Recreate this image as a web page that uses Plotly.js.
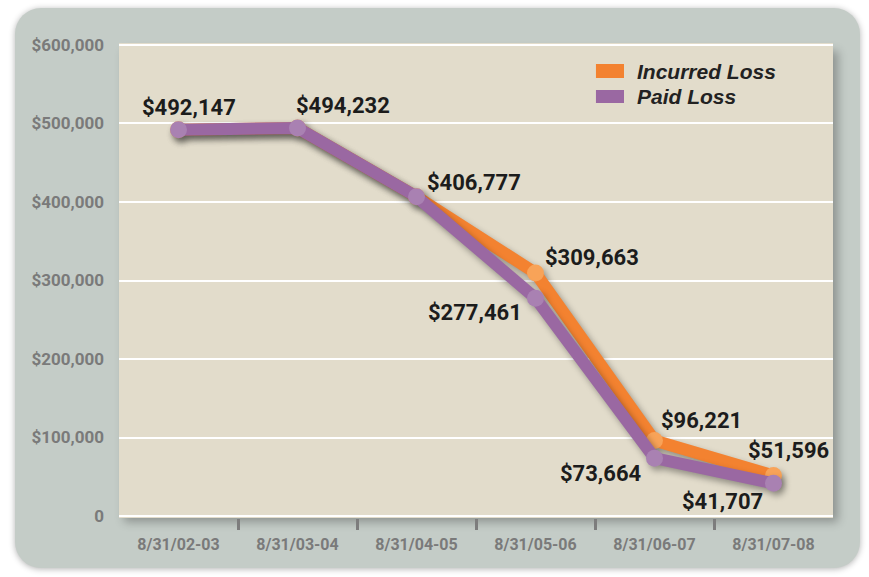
<!DOCTYPE html>
<html>
<head>
<meta charset="utf-8">
<script src="https://cdn.plot.ly/plotly-3.0.1.min.js"></script>
<style>
  html, body { margin: 0; padding: 0; background: #ffffff; }
  #wrap { position: relative; width: 869px; height: 577px; overflow: hidden; }
  #frame { position: absolute; left: 15px; top: 8px; width: 845px; height: 560px;
           border-radius: 26px; background: #c4ccc7;
           box-shadow: 0 1px 6px rgba(0,0,0,0.30); }
  #panelshadow { position: absolute; left: 119px; top: 45px; width: 714px; height: 471px;
           background: #e2dccb; box-shadow: 5px 6px 9px rgba(0,0,0,0.28); }
  #chart { position: absolute; left: 0; top: 0; width: 869px; height: 577px; }
  #chart .scatterlayer .trace { filter: drop-shadow(3px 4px 3px rgba(0,0,0,0.35)); }
</style>
</head>
<body>
<div id="wrap">
  <div id="frame"></div>
  <div id="panelshadow"></div>
  <div id="chart"></div>
</div>
<script>
const categories = ["8/31/02-03", "8/31/03-04", "8/31/04-05", "8/31/05-06", "8/31/06-07", "8/31/07-08"];
const incurredLoss = [492147, 494232, 406777, 309663, 96221, 51596];
const paidLoss = [492147, 494232, 406777, 277461, 73664, 41707];
const seriesNames = ["Incurred Loss", "Paid Loss"];
const yTickVals = [0, 100000, 200000, 300000, 400000, 500000, 600000];
const yTickText = ["0", "$100,000", "$200,000", "$300,000", "$400,000", "$500,000", "$600,000"];

const condensed = 'Roboto, "Liberation Sans", sans-serif';
const ORANGE = '#f38230', ORANGE_M = '#f8a358';
const PURPLE = '#9a68a2', PURPLE_M = '#a981b2';

function fmt(v) { return '$' + v.toLocaleString('en-US'); }

const traces = [
  { x: categories, y: incurredLoss, name: seriesNames[0], type: 'scatter', mode: 'lines+markers',
    line: { color: ORANGE, width: 12 }, marker: { color: ORANGE_M, size: 17 }, showlegend: false, hoverinfo: 'skip' },
  { x: categories, y: paidLoss, name: seriesNames[1], type: 'scatter', mode: 'lines+markers',
    line: { color: PURPLE, width: 12 }, marker: { color: PURPLE_M, size: 17 }, showlegend: false, hoverinfo: 'skip' }
];

// label offsets (style only)
const incOffsets = [null, null, null, [56, 15], [47, 20], [15, 25]];
const paidOffsets = [[10, 22], [45, 23], [57, 14], [-61, -14], [-54, -15], [-51, -18]];
const annotations = [];
const labelFont = { family: condensed, size: 22, color: '#1c1c1c', weight: 700 };
paidLoss.forEach((v, i) => {
  const o = paidOffsets[i];
  annotations.push({ x: categories[i], y: v, text: '<b>' + fmt(v) + '</b>', showarrow: false,
    xshift: o[0], yshift: o[1], font: labelFont });
});
incurredLoss.forEach((v, i) => {
  const o = incOffsets[i];
  if (!o) return;
  annotations.push({ x: categories[i], y: v, text: '<b>' + fmt(v) + '</b>', showarrow: false,
    xshift: o[0], yshift: o[1], font: labelFont });
});
// legend (drawn manually with rectangles + text)
const legendColors = [ORANGE, PURPLE];
const legendY = [[0.9263, 0.9558], [0.8737, 0.901]];
const shapes = [];
seriesNames.forEach((n, i) => {
  shapes.push({ type: 'rect', xref: 'paper', yref: 'paper', x0: 0.668, x1: 0.7073,
    y0: legendY[i][0], y1: legendY[i][1], fillcolor: legendColors[i], line: { width: 0 } });
  annotations.push({ xref: 'paper', yref: 'paper', x: 0.7225, y: (legendY[i][0] + legendY[i][1]) / 2,
    xanchor: 'left', yanchor: 'middle', showarrow: false,
    text: '<b><i>' + n + '</i></b>',
    font: { family: '"Liberation Sans", Arial, sans-serif', size: 21, color: '#222222' } });
});

const layout = {
  width: 869, height: 577,
  margin: { l: 119, r: 36, t: 43, b: 59 },
  paper_bgcolor: 'rgba(0,0,0,0)',
  plot_bgcolor: '#e2dccb',
  showlegend: false,
  xaxis: {
    type: 'category', range: [-0.5, 5.5], showgrid: false, zeroline: false, showline: false,
    ticks: '', ticklabelstandoff: 15,
    tickfont: { family: condensed, size: 16, color: '#7a7a7a', weight: 700 }
  },
  xaxis2: {
    overlaying: 'x', side: 'bottom', range: [-0.5, 5.5], showgrid: false, zeroline: false,
    tickvals: [0.5, 1.5, 2.5, 3.5, 4.5], ticktext: ['', '', '', '', ''],
    ticks: 'outside', ticklen: 11, tickwidth: 3, tickcolor: '#7d7d7d', showline: false
  },
  yaxis: {
    range: [-2500, 602500], tickvals: yTickVals, ticktext: yTickText,
    showgrid: true, gridcolor: '#ffffff', gridwidth: 2, zeroline: false, showline: false,
    ticks: '', ticklabelstandoff: 14,
    tickfont: { family: condensed, size: 17, color: '#7a7a7a', weight: 700 }
  },
  shapes: shapes,
  annotations: annotations
};

// dummy trace to activate xaxis2 (no marks)
traces.unshift({ x: [], y: [], xaxis: 'x2', yaxis: 'y', type: 'scatter', showlegend: false, hoverinfo: 'skip' });

Plotly.newPlot('chart', traces, layout, { displayModeBar: false, staticPlot: true });
</script>
</body>
</html>
